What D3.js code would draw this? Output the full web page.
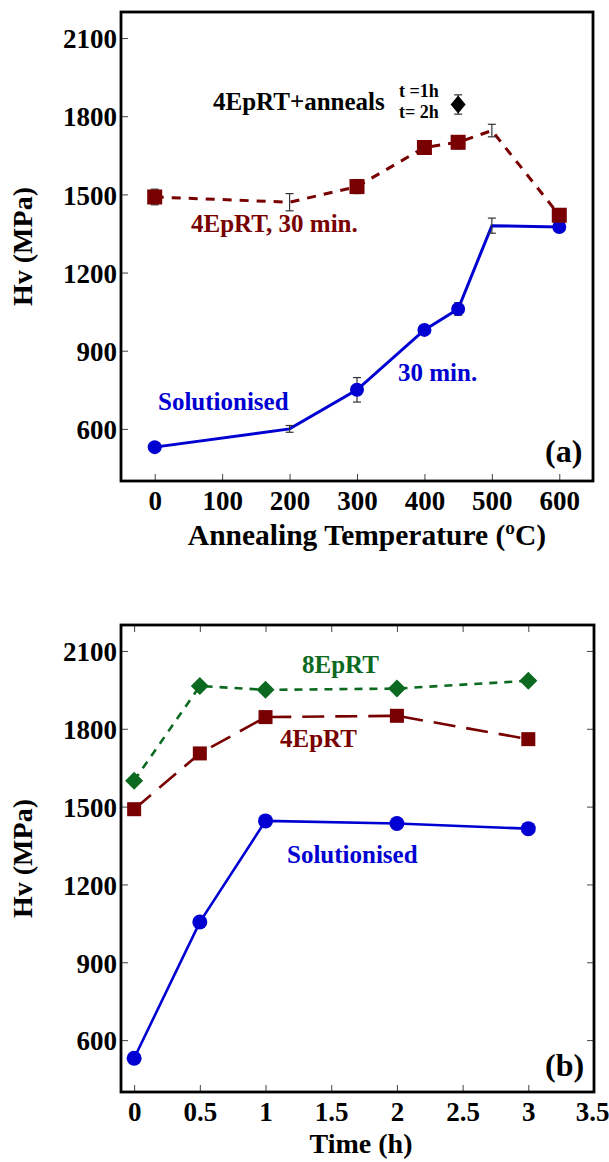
<!DOCTYPE html>
<html>
<head>
<meta charset="utf-8">
<script src="https://cdnjs.cloudflare.com/ajax/libs/d3/7.8.5/d3.min.js"></script>
<style>
  body { margin: 0; background: #fff; }
  svg text { font-family: "Liberation Serif", "Times New Roman", serif; font-weight: bold; }
</style>
</head>
<body>
<div id="viz"></div>
<script>
// ---------------- data, panel (a) ----------------
var tempA = [0, 200, 300, 400, 450, 500, 600];
var rtA = [1490, 1470, 1530, 1680, 1700, 1745, 1420];
var rtErrA = [30, 33, 27, 25, 25, 24, 10];
var rtMarkA = [true, false, true, true, true, false, true];
var solA = [530, 600, 750, 980, 1060, 1380, 1375];
var solErrA = [5, 13, 47, 10, 24, 29, 15];
var solMarkA = [true, false, true, true, true, false, true];
var annealT = [450];
var annealHv = [1845];
var annealErr = [37];
var xTicksA = [0, 100, 200, 300, 400, 500, 600];

// ---------------- data, panel (b) ----------------
var timeB = [0, 0.5, 1, 2, 3];
var ep8B = [1600, 1965, 1950, 1955, 1985];
var ep4B = [1490, 1705, 1845, 1850, 1760];
var solB = [530, 1055, 1445, 1435, 1415];
var xTicksB = [0, 0.5, 1, 1.5, 2, 2.5, 3, 3.5];

var yTicks = [600, 900, 1200, 1500, 1800, 2100];

var blue = "#0000d2", red = "#780000", green = "#0b6a20";

var svg = d3.select("#viz").append("svg")
    .attr("width", 609)
    .attr("height", 1162);

function zip(xs, ys) {
    return xs.map(function(x, i) { return {x: x, y: ys[i], i: i}; });
}

function diamondPath(hw, hh) {
    return "M0," + (-hh) + "L" + hw + ",0L0," + hh + "L" + (-hw) + ",0Z";
}

// frame + axes, returns the scales
function buildPanel(box, xDomain, yDomain, xTicks, allSides, xFmt) {
    var x = d3.scaleLinear().domain(xDomain).range([box.left, box.right]);
    var y = d3.scaleLinear().domain(yDomain).range([box.bottom, box.top]);

    var gx = svg.append("g")
        .attr("transform", "translate(0," + box.bottom + ")")
        .call(d3.axisBottom(x).tickValues(xTicks).tickSize(-7).tickPadding(10).tickFormat(xFmt));
    var gy = svg.append("g")
        .attr("transform", "translate(" + box.left + ",0)")
        .call(d3.axisLeft(y).tickValues(yTicks).tickSize(-7).tickPadding(4).tickFormat(d3.format("d")));

    if (allSides) {
        svg.append("g")
            .attr("transform", "translate(0," + box.top + ")")
            .call(d3.axisTop(x).tickValues(xTicks).tickSize(-7).tickFormat(""));
        svg.append("g")
            .attr("transform", "translate(" + box.right + ",0)")
            .call(d3.axisRight(y).tickValues(yTicks).tickSize(-7).tickFormat(""));
    }

    svg.selectAll(".domain").remove();
    svg.selectAll(".tick line").attr("stroke", "#444").attr("stroke-width", 1);
    svg.selectAll(".tick text")
        .attr("font-size", 27)
        .attr("fill", "#000");
    gy.selectAll(".tick text").attr("dy", "0.36em");

    svg.append("rect")
        .attr("x", box.left)
        .attr("y", box.top)
        .attr("width", box.right - box.left)
        .attr("height", box.bottom - box.top)
        .attr("fill", "none")
        .attr("stroke", "#000")
        .attr("stroke-width", 2.8);

    return {x: x, y: y, gx: gx};
}

function drawLine(sc, pts, color, width, dash) {
    var line = d3.line()
        .x(function(d) { return sc.x(d.x); })
        .y(function(d) { return sc.y(d.y); });
    svg.append("path")
        .datum(pts)
        .attr("d", line)
        .attr("fill", "none")
        .attr("stroke", color)
        .attr("stroke-width", width)
        .attr("stroke-dasharray", dash);
}

function drawErrors(sc, pts, errs) {
    var g = svg.append("g").attr("stroke", "#333").attr("stroke-width", 1.2);
    pts.forEach(function(d, i) {
        var cx = sc.x(d.x), y1 = sc.y(d.y - errs[i]), y2 = sc.y(d.y + errs[i]);
        g.append("line").attr("x1", cx).attr("x2", cx).attr("y1", y1).attr("y2", y2);
        g.append("line").attr("x1", cx - 4).attr("x2", cx + 4).attr("y1", y1).attr("y2", y1);
        g.append("line").attr("x1", cx - 4).attr("x2", cx + 4).attr("y1", y2).attr("y2", y2);
    });
}

function drawSquares(sc, pts, color, s) {
    svg.append("g").selectAll("rect")
        .data(pts)
        .enter()
        .append("rect")
        .attr("x", function(d) { return sc.x(d.x) - s / 2; })
        .attr("y", function(d) { return sc.y(d.y) - s / 2; })
        .attr("width", s)
        .attr("height", s)
        .attr("fill", color);
}

function drawCircles(sc, pts, color, r) {
    svg.append("g").selectAll("circle")
        .data(pts)
        .enter()
        .append("circle")
        .attr("cx", function(d) { return sc.x(d.x); })
        .attr("cy", function(d) { return sc.y(d.y); })
        .attr("r", r)
        .attr("fill", color);
}

function drawDiamonds(sc, pts, color, hw, hh) {
    svg.append("g").selectAll("path")
        .data(pts)
        .enter()
        .append("path")
        .attr("transform", function(d) { return "translate(" + sc.x(d.x) + "," + sc.y(d.y) + ")"; })
        .attr("d", diamondPath(hw, hh))
        .attr("fill", color);
}

function label(x, y, txt, size, color, anchor) {
    return svg.append("text")
        .attr("x", x)
        .attr("y", y)
        .attr("font-size", size)
        .attr("fill", color)
        .attr("text-anchor", anchor || "start")
        .text(txt);
}

//***************** panel (a) ***************************
var boxA = {left: 121, right: 593, top: 12, bottom: 481};
var scA = buildPanel(boxA, [-50, 650], [400, 2200], xTicksA, false, d3.format("d"));

var solPtsA = zip(tempA, solA);
var rtPtsA = zip(tempA, rtA);

drawLine(scA, solPtsA, blue, 3, null);
drawErrors(scA, solPtsA, solErrA);
drawCircles(scA, solPtsA.filter(function(d) { return solMarkA[d.i]; }), blue, 7);

drawLine(scA, rtPtsA, red, 3, "9,8");
drawErrors(scA, rtPtsA, rtErrA);
drawSquares(scA, rtPtsA.filter(function(d) { return rtMarkA[d.i]; }), red, 15);

var annealPts = zip(annealT, annealHv);
drawErrors(scA, annealPts, annealErr);
drawDiamonds(scA, annealPts, "#000", 7.5, 9);

label(213, 110, "4EpRT+anneals", 25, "#000");
label(399, 97, "t =1h", 18, "#000");
label(399, 118, "t= 2h", 18, "#000");
label(191, 232, "4EpRT, 30 min.", 25, red);
label(158, 410, "Solutionised", 25, blue);
label(398, 381, "30 min.", 25, blue);
label(545, 462, "(a)", 32, "#000");

label(367, 545, "Annealing Temperature (\u00baC)", 29.5, "#000", "middle");
svg.append("text")
    .attr("transform", "translate(32," + (boxA.top + boxA.bottom) / 2 + ") rotate(-90)")
    .attr("font-size", 28)
    .attr("text-anchor", "middle")
    .text("Hv (MPa)");

//***************** panel (b) ***************************
var boxB = {left: 121, right: 594, top: 625, bottom: 1092};
var scB = buildPanel(boxB, [-0.1, 3.5], [400, 2200], xTicksB, true, function(d) { return d; });

// last tick label sits on the page edge, keep it inside
scB.gx.selectAll(".tick text")
    .filter(function(d) { return d === 3.5; })
    .attr("text-anchor", "end")
    .attr("x", 15);

drawLine(scB, zip(timeB, solB), blue, 2.6, null);
drawCircles(scB, zip(timeB, solB), blue, 7.5);

drawLine(scB, zip(timeB, ep4B), red, 2.6, "22,11");
drawSquares(scB, zip(timeB, ep4B), red, 14);

drawLine(scB, zip(timeB, ep8B), green, 2.6, "8,7");
drawDiamonds(scB, zip(timeB, ep8B), green, 9, 9);

label(302, 673, "8EpRT", 25, green);
label(280, 747, "4EpRT", 25, red);
label(287, 863, "Solutionised", 25, blue);
label(545, 1076, "(b)", 32, "#000");

label(361, 1153, "Time (h)", 28, "#000", "middle");
svg.append("text")
    .attr("transform", "translate(32," + (boxB.top + boxB.bottom) / 2 + ") rotate(-90)")
    .attr("font-size", 28)
    .attr("text-anchor", "middle")
    .text("Hv (MPa)");
</script>
</body>
</html>
